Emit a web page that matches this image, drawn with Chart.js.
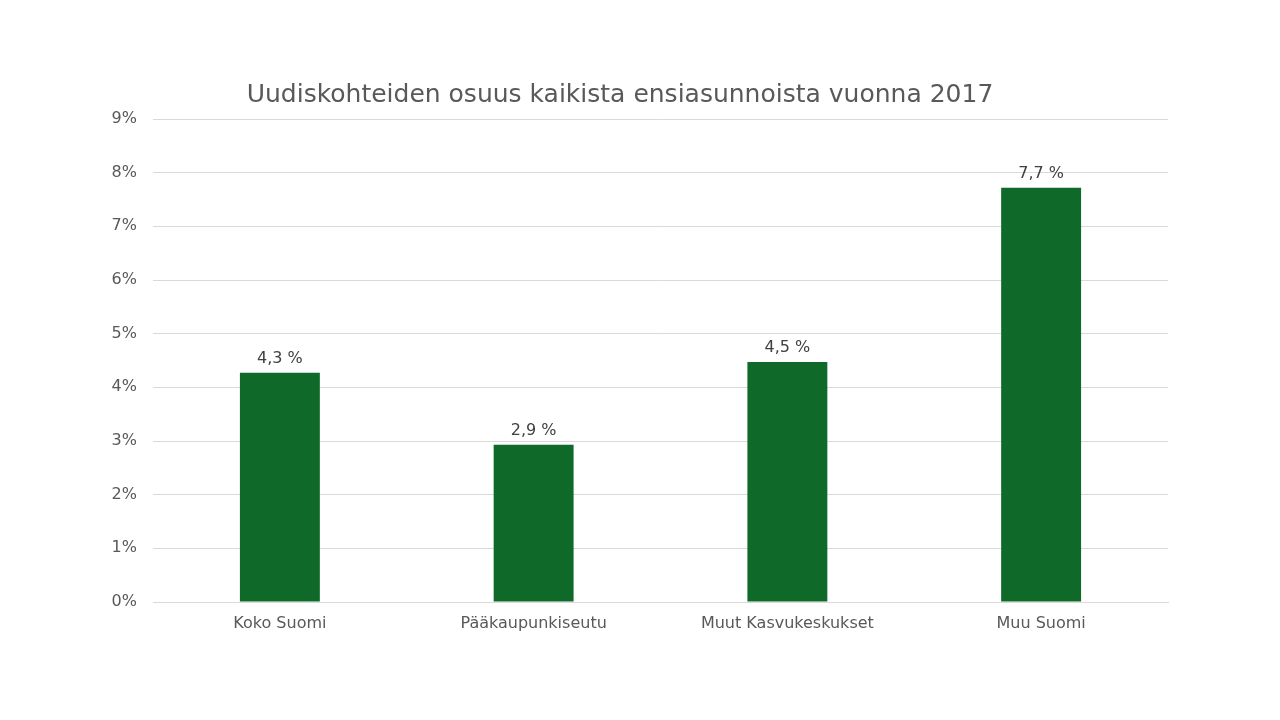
<!DOCTYPE html>
<html>
<head>
<meta charset="utf-8">
<script src="https://cdn.jsdelivr.net/npm/chart.js@4"></script>
<style>
html,body{margin:0;padding:0;background:#fff;}
#wrap{width:1280px;height:720px;position:relative;}
</style>
</head>
<body>
<div id="wrap"><canvas id="c" width="1280" height="720"></canvas></div>
<script>
const title = "Uudiskohteiden osuus kaikista ensiasunnoista vuonna 2017";
const categories = ["Koko Suomi", "Pääkaupunkiseutu", "Muut Kasvukeskukset", "Muu Suomi"];
const shares = [4.27, 2.93, 4.47, 7.72];
const yTicks = [0, 1, 2, 3, 4, 5, 6, 7, 8, 9];

const FONT = "'DejaVu Sans', Verdana, sans-serif";

const titlePlugin = {
  id: 'customTitle',
  afterDraw(chart) {
    const ctx = chart.ctx;
    ctx.save();
    ctx.font = "25px " + FONT;
    ctx.fillStyle = '#595959';
    ctx.textAlign = 'center';
    ctx.textBaseline = 'middle';
    ctx.fillText(title, 620, 95);
    ctx.restore();
  }
};

const labelPlugin = {
  id: 'valueLabels',
  afterDatasetsDraw(chart) {
    const ctx = chart.ctx;
    const meta = chart.getDatasetMeta(0);
    ctx.save();
    ctx.font = "16px " + FONT;
    ctx.fillStyle = '#404040';
    ctx.textAlign = 'center';
    ctx.textBaseline = 'alphabetic';
    meta.data.forEach((bar, i) => {
      const v = chart.data.datasets[0].data[i];
      const txt = v.toFixed(1).replace('.', ',') + ' %';
      ctx.fillText(txt, bar.x, bar.y - 10);
    });
    ctx.restore();
  }
};

new Chart(document.getElementById('c'), {
  type: 'bar',
  data: {
    labels: categories,
    datasets: [{
      data: shares,
      backgroundColor: '#0F6A2A',
      borderWidth: 0,
      barPercentage: 0.315,
      categoryPercentage: 1.0
    }]
  },
  options: {
    responsive: false,
    animation: false,
    devicePixelRatio: 1,
    layout: { padding: { top: 119, left: 72, right: 112, bottom: 58 } },
    plugins: { legend: { display: false }, title: { display: false }, tooltip: { enabled: false } },
    scales: {
      x: {
        grid: { display: false, drawTicks: false },
        border: { display: true, color: '#d9d9d9', width: 1 },
        ticks: { color: '#595959', font: { family: FONT, size: 16 }, padding: 12, maxRotation: 0 },
        afterFit(s) { s.height = 60; }
      },
      y: {
        min: 0, max: 9,
        afterBuildTicks(s) { s.ticks = yTicks.map(v => ({ value: v })); },
        grid: { color: '#d9d9d9', lineWidth: 1, drawTicks: false },
        border: { display: false },
        ticks: { color: '#595959', font: { family: FONT, size: 16 }, padding: 16, callback: v => v + '%' },
        afterFit(s) { s.width = 81; }
      }
    }
  },
  plugins: [titlePlugin, labelPlugin]
});
</script>
</body>
</html>
